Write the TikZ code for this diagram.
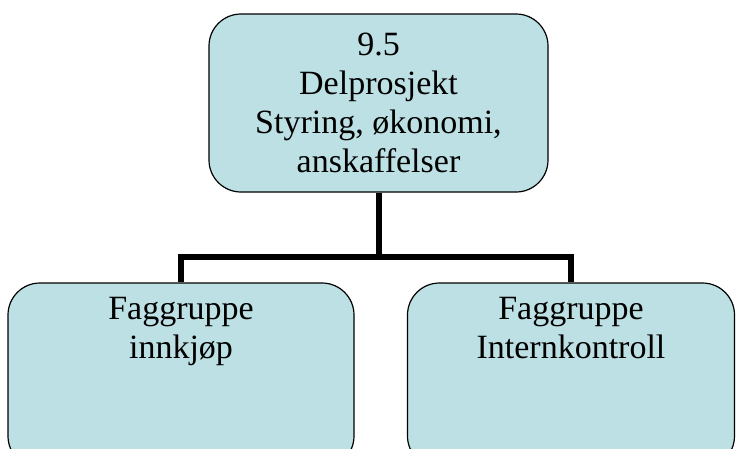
\documentclass[tikz,border=0pt]{standalone}
\usepackage{fontspec}
\setmainfont{Liberation Serif}
\definecolor{boxfill}{RGB}{188,224,227}
\tikzset{
  unitbox/.style={draw, fill=boxfill, line width=1.2pt, rounded corners=32pt},
  unittext/.style={align=center, font=\fontsize{34}{39}\selectfont, inner sep=0pt},
  link/.style={line width=6pt}
}
\begin{document}
\begin{tikzpicture}[x=1pt, y=-1pt]
\useasboundingbox (0,0) rectangle (737,448);
\node[unitbox, minimum width=339pt, minimum height=178pt] (top) at (378.5,103) {};
\node[unittext] (toptext) at (top.center) {9.5\\Delprosjekt\\Styring, økonomi,\\anskaffelser};
\node[unitbox, minimum width=346pt, minimum height=185pt] (lbox) at (181,375.5) {};
\node[unitbox, minimum width=327pt, minimum height=185pt] (rbox) at (571,375.5) {};
\node[unittext, anchor=north] (ltext) at ([yshift=-15pt]lbox.north) {Faggruppe\\innkjøp};
\node[unittext, anchor=north] (rtext) at ([yshift=-15pt]rbox.north) {Faggruppe\\Internkontroll};
\coordinate (hub) at (378.5,257);
\draw[link] (top.south) -- (hub) -| (lbox.north);
\draw[link] (hub) -| (rbox.north);
\end{tikzpicture}
\end{document}
